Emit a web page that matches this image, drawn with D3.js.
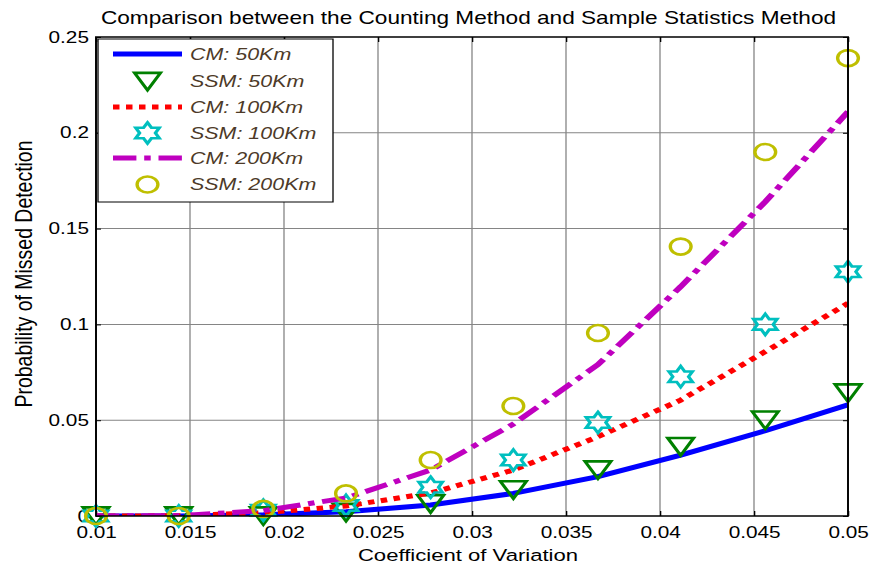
<!DOCTYPE html>
<html>
<head>
<meta charset="utf-8">
<script src="https://cdn.jsdelivr.net/npm/d3@7"></script>
<style>
  html, body { margin: 0; padding: 0; background: #fff; }
  svg { display: block; }
  text { font-family: "Liberation Sans", Arial, Helvetica, sans-serif; }
</style>
</head>
<body>
<div id="chart"></div>
<script>
// Coefficient of variation sample points
const cvValues = [0.01, 0.0144, 0.0189, 0.0233, 0.0278, 0.0322, 0.0367, 0.0411, 0.0456, 0.05];

// Counting method (curves) and sample statistics method (markers)
const cm50   = [0, 0.0000, 0.0006, 0.0022, 0.0057, 0.0118, 0.0205, 0.0318, 0.0445, 0.058];
const ssm50  = [0, 0, 0, 0.0018, 0.0063, 0.0136, 0.024, 0.0362, 0.050, 0.0642];
const cm100  = [0, 0.0001, 0.0017, 0.0052, 0.012, 0.024, 0.0414, 0.0605, 0.0858, 0.111];
const ssm100 = [0, 0, 0.003, 0.0055, 0.015, 0.0292, 0.0488, 0.0727, 0.100, 0.1275];
const cm200  = [0, 0.0002, 0.0028, 0.0094, 0.024, 0.048, 0.079, 0.1197, 0.164, 0.211];
const ssm200 = [0, 0, 0.0037, 0.0118, 0.0292, 0.0574, 0.0955, 0.1406, 0.190, 0.239];

const xTicks = [0.01, 0.015, 0.02, 0.025, 0.03, 0.035, 0.04, 0.045, 0.05];
const xTickLabels = ["0.01", "0.015", "0.02", "0.025", "0.03", "0.035", "0.04", "0.045", "0.05"];
const yTicks = [0, 0.05, 0.1, 0.15, 0.2, 0.25];
const yTickLabels = ["0", "0.05", "0.1", "0.15", "0.2", "0.25"];

const legendLabels = ["CM: 50Km", "SSM: 50Km", "CM: 100Km", "SSM: 100Km", "CM: 200Km", "SSM: 200Km"];

const W = 877, H = 571;
const SX = 1.3;                 // horizontal stretch of the whole figure
const L = 96, R = 848, T = 37, B = 516;

const svg = d3.select("#chart").append("svg")
  .attr("width", W).attr("height", H);

const g = svg.append("g").attr("transform", `scale(${SX},1)`);

const x = d3.scaleLinear().domain([0.01, 0.05]).range([L / SX, R / SX]);
const y = d3.scaleLinear().domain([0, 0.25]).range([B, T]);

// grid
const grid = g.append("g");
grid.selectAll(".gx").data(xTicks.slice(1, -1)).enter().append("line")
  .attr("x1", d => x(d)).attr("x2", d => x(d)).attr("y1", T).attr("y2", B)
  .attr("stroke", "#858585").attr("stroke-width", 1);
grid.selectAll(".gy").data(yTicks.slice(1, -1)).enter().append("line")
  .attr("x1", L / SX).attr("x2", R / SX).attr("y1", d => y(d)).attr("y2", d => y(d))
  .attr("stroke", "#858585").attr("stroke-width", 1);

// axes
const fontSize = 16;
const axB = g.append("g").attr("transform", `translate(0,${B})`)
  .call(d3.axisBottom(x).tickValues(xTicks).tickFormat((d, i) => xTickLabels[i])
    .tickSizeInner(-5).tickSizeOuter(0).tickPadding(11));
const axL = g.append("g").attr("transform", `translate(${L / SX},0)`)
  .call(d3.axisLeft(y).tickValues(yTicks).tickFormat((d, i) => yTickLabels[i])
    .tickSizeInner(-5 / SX).tickSizeOuter(0).tickPadding(5.4));
const axT = g.append("g").attr("transform", `translate(0,${T})`)
  .call(d3.axisTop(x).tickValues(xTicks).tickFormat("").tickSizeInner(-5).tickSizeOuter(0));
const axR = g.append("g").attr("transform", `translate(${R / SX},0)`)
  .call(d3.axisRight(y).tickValues(yTicks).tickFormat("").tickSizeInner(-5 / SX).tickSizeOuter(0));
[axB, axL, axT, axR].forEach(a => {
  a.select(".domain").remove();
  a.selectAll("line").attr("stroke", "#000").attr("stroke-width", 1);
  a.selectAll("text").attr("font-size", fontSize).attr("fill", "#000")
    .attr("font-family", "'Liberation Sans', Arial, sans-serif");
});

// clip for curves
g.append("clipPath").attr("id", "plotClip").append("rect")
  .attr("x", L / SX).attr("y", T).attr("width", (R - L) / SX).attr("height", B - T);

const line = d3.line().x(d => x(d[0])).y(d => y(d[1]));

const hexagram = (R0) => {
  const r0 = R0 / Math.sqrt(3);
  const pts = [];
  for (let k = 0; k < 12; k++) {
    const a = -Math.PI / 2 + k * Math.PI / 6;
    const rr = k % 2 === 0 ? R0 : r0;
    pts.push([rr * Math.cos(a), rr * Math.sin(a)]);
  }
  return "M" + pts.map(p => p.join(",")).join("L") + "Z";
};
const triDown = (s) => {
  const h = s * Math.sqrt(3) / 2;
  return `M${-s / 2},${-h / 2}L${s / 2},${-h / 2}L0,${h / 2}Z`;
};

const series = [
  { type: "line", values: cm50, color: "#0000ff", dash: null },
  { type: "mark", values: ssm50, color: "#008000", shape: "tri" },
  { type: "line", values: cm100, color: "#ff0000", dash: "5,5" },
  { type: "mark", values: ssm100, color: "#00bfbf", shape: "hex" },
  { type: "line", values: cm200, color: "#bf00bf", dash: "18,6,5,6" },
  { type: "mark", values: ssm200, color: "#bfbf00", shape: "circ" }
];

function drawMarker(sel, shape, color) {
  if (shape === "circ") {
    sel.append("circle").attr("r", 8).attr("fill", "none")
      .attr("stroke", color).attr("stroke-width", 2.6);
  } else if (shape === "tri") {
    sel.append("path").attr("d", triDown(20)).attr("fill", "none")
      .attr("stroke", color).attr("stroke-width", 2.6).attr("stroke-linejoin", "miter");
  } else {
    sel.append("path").attr("d", hexagram(10.5)).attr("fill", "none")
      .attr("stroke", color).attr("stroke-width", 2.6).attr("stroke-linejoin", "miter");
  }
}

const dataLayer = g.append("g");
series.forEach(s => {
  const pts = cvValues.map((c, i) => [c, s.values[i]]);
  if (s.type === "line") {
    dataLayer.append("path").attr("d", line(pts))
      .attr("clip-path", "url(#plotClip)")
      .attr("fill", "none").attr("stroke", s.color).attr("stroke-width", 5)
      .attr("stroke-dasharray", s.dash);
  } else {
    pts.forEach(p => {
      const m = dataLayer.append("g").attr("transform", `translate(${x(p[0])},${y(p[1])})`);
      drawMarker(m, s.shape, s.color);
    });
  }
});

// axes frame
g.append("rect").attr("x", L / SX).attr("y", T)
  .attr("width", (R - L) / SX).attr("height", B - T)
  .attr("fill", "none").attr("stroke", "#000").attr("stroke-width", 1.5);

// legend
const lgX0 = 98, lgX1 = 333, lgY0 = 39, lgY1 = 202;
const legend = g.append("g");
legend.append("rect").attr("x", lgX0 / SX).attr("y", lgY0)
  .attr("width", (lgX1 - lgX0) / SX).attr("height", lgY1 - lgY0)
  .attr("fill", "#fff").attr("stroke", "#000").attr("stroke-width", 1);
const rowY = [54, 81.5, 107, 133, 158, 184.5];
series.forEach((s, i) => {
  const ry = rowY[i];
  if (s.type === "line") {
    legend.append("line").attr("x1", 113 / SX).attr("x2", 182 / SX)
      .attr("y1", ry).attr("y2", ry)
      .attr("stroke", s.color).attr("stroke-width", 5).attr("stroke-dasharray", s.dash);
  } else {
    const m = legend.append("g").attr("transform", `translate(${147.5 / SX},${ry})`);
    drawMarker(m, s.shape, s.color);
  }
  legend.append("text").attr("x", 190 / SX).attr("y", ry).attr("dy", "0.36em")
    .attr("font-size", 16.5).attr("font-style", "italic").attr("fill", "#4d3a28")
    .text(legendLabels[i]);
});

// title (slightly taller glyphs) and axis labels
g.append("g").attr("transform", "translate(0,24) scale(1,1.08)")
  .append("text").attr("x", 468.5 / SX).attr("y", 0)
  .attr("text-anchor", "middle").attr("font-size", 17.4).attr("fill", "#000")
  .text("Comparison between the Counting Method and Sample Statistics Method");

g.append("text").attr("x", 468 / SX).attr("y", 561)
  .attr("text-anchor", "middle").attr("font-size", 17).attr("fill", "#000")
  .text("Coefficient of Variation");

g.append("text")
  .attr("transform", `translate(${32 / SX},274) rotate(-90)`)
  .attr("text-anchor", "middle").attr("font-size", 18).attr("fill", "#000")
  .attr("textLength", 267).attr("lengthAdjust", "spacingAndGlyphs")
  .text("Probability of Missed Detection");
</script>
</body>
</html>
